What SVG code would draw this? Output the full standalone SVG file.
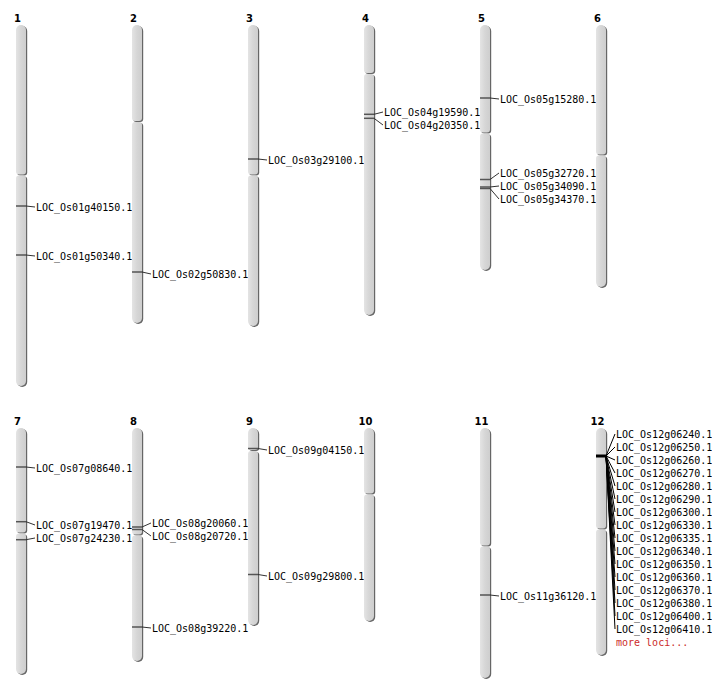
<svg xmlns="http://www.w3.org/2000/svg" width="712" height="700" viewBox="0 0 712 700">
<defs>
<linearGradient id="g" x1="0" y1="0" x2="1" y2="0">
<stop offset="0" stop-color="#e4e4e4"/>
<stop offset="0.5" stop-color="#d6d6d6"/>
<stop offset="1" stop-color="#cecece"/>
</linearGradient>
</defs>
<style>
.sh{fill:#666}
.bd{fill:url(#g)}
.num{font-family:"DejaVu Sans",sans-serif;font-weight:bold;font-size:10px;text-anchor:middle;fill:#000}
.lb{font-family:"DejaVu Sans Mono","Liberation Mono",monospace;font-size:10px;fill:#000}
.more{fill:#cc2a2a}
.mk{stroke:#555;stroke-width:1.5}
.mk12{stroke:#000;stroke-width:3}
.cn{stroke:#333;stroke-width:1;fill:none}
.cn12{stroke:#000;stroke-width:1;fill:none}
</style>
<rect width="712" height="700" fill="#fff"/>

<g id="chr1">
<text class="num" x="17.5" y="22">1</text>
<g transform="translate(1.2,1)" class="sh"><path d="M16 30A5 5 0 0 1 21 25A5 5 0 0 1 26 30V171.5A3 3 0 0 1 23 174.5H19A3 3 0 0 1 16 171.5Z"/><path d="M16 178.5A3 3 0 0 1 19 175.5H23A3 3 0 0 1 26 178.5V381A5 5 0 0 1 21 386A5 5 0 0 1 16 381Z"/></g>
<path class="bd" d="M16 30A5 5 0 0 1 21 25A5 5 0 0 1 26 30V171.5A3 3 0 0 1 23 174.5H19A3 3 0 0 1 16 171.5Z"/><path class="bd" d="M16 178.5A3 3 0 0 1 19 175.5H23A3 3 0 0 1 26 178.5V381A5 5 0 0 1 21 386A5 5 0 0 1 16 381Z"/>
<line class="mk" x1="16" y1="206" x2="27" y2="206"/>
<line class="mk" x1="16" y1="255" x2="27" y2="255"/>
<text class="lb" x="36" y="210.5">LOC_Os01g40150.1</text>
<text class="lb" x="36" y="259.5">LOC_Os01g50340.1</text>
</g>

<g id="chr2">
<text class="num" x="133.5" y="22">2</text>
<g transform="translate(1.2,1)" class="sh"><path d="M132 30A5 5 0 0 1 137 25A5 5 0 0 1 142 30V118A3 3 0 0 1 139 121H135A3 3 0 0 1 132 118Z"/><path d="M132 125A3 3 0 0 1 135 122H139A3 3 0 0 1 142 125V318A5 5 0 0 1 137 323A5 5 0 0 1 132 318Z"/></g>
<path class="bd" d="M132 30A5 5 0 0 1 137 25A5 5 0 0 1 142 30V118A3 3 0 0 1 139 121H135A3 3 0 0 1 132 118Z"/><path class="bd" d="M132 125A3 3 0 0 1 135 122H139A3 3 0 0 1 142 125V318A5 5 0 0 1 137 323A5 5 0 0 1 132 318Z"/>
<line class="mk" x1="132" y1="272" x2="143" y2="272"/>
<text class="lb" x="152" y="277.5">LOC_Os02g50830.1</text>
</g>

<g id="chr3">
<text class="num" x="249.5" y="22">3</text>
<g transform="translate(1.2,1)" class="sh"><path d="M248 30A5 5 0 0 1 253 25A5 5 0 0 1 258 30V171.5A3 3 0 0 1 255 174.5H251A3 3 0 0 1 248 171.5Z"/><path d="M248 178.5A3 3 0 0 1 251 175.5H255A3 3 0 0 1 258 178.5V321A5 5 0 0 1 253 326A5 5 0 0 1 248 321Z"/></g>
<path class="bd" d="M248 30A5 5 0 0 1 253 25A5 5 0 0 1 258 30V171.5A3 3 0 0 1 255 174.5H251A3 3 0 0 1 248 171.5Z"/><path class="bd" d="M248 178.5A3 3 0 0 1 251 175.5H255A3 3 0 0 1 258 178.5V321A5 5 0 0 1 253 326A5 5 0 0 1 248 321Z"/>
<line class="mk" x1="248" y1="159" x2="259" y2="159"/>
<text class="lb" x="268" y="163.5">LOC_Os03g29100.1</text>
</g>

<g id="chr4">
<text class="num" x="365.5" y="22">4</text>
<g transform="translate(1.2,1)" class="sh"><path d="M364 30A5 5 0 0 1 369 25A5 5 0 0 1 374 30V70A3 3 0 0 1 371 73H367A3 3 0 0 1 364 70Z"/><path d="M364 77A3 3 0 0 1 367 74H371A3 3 0 0 1 374 77V310A5 5 0 0 1 369 315A5 5 0 0 1 364 310Z"/></g>
<path class="bd" d="M364 30A5 5 0 0 1 369 25A5 5 0 0 1 374 30V70A3 3 0 0 1 371 73H367A3 3 0 0 1 364 70Z"/><path class="bd" d="M364 77A3 3 0 0 1 367 74H371A3 3 0 0 1 374 77V310A5 5 0 0 1 369 315A5 5 0 0 1 364 310Z"/>
<line class="mk" x1="364" y1="114.3" x2="375" y2="114.3"/>
<line class="mk" x1="364" y1="118.3" x2="375" y2="118.3"/>
<text class="lb" x="384" y="115.5">LOC_Os04g19590.1</text>
<text class="lb" x="384" y="128.5">LOC_Os04g20350.1</text>
</g>

<g id="chr5">
<text class="num" x="481.5" y="22">5</text>
<g transform="translate(1.2,1)" class="sh"><path d="M480 30A5 5 0 0 1 485 25A5 5 0 0 1 490 30V129.5A3 3 0 0 1 487 132.5H483A3 3 0 0 1 480 129.5Z"/><path d="M480 136.5A3 3 0 0 1 483 133.5H487A3 3 0 0 1 490 136.5V265A5 5 0 0 1 485 270A5 5 0 0 1 480 265Z"/></g>
<path class="bd" d="M480 30A5 5 0 0 1 485 25A5 5 0 0 1 490 30V129.5A3 3 0 0 1 487 132.5H483A3 3 0 0 1 480 129.5Z"/><path class="bd" d="M480 136.5A3 3 0 0 1 483 133.5H487A3 3 0 0 1 490 136.5V265A5 5 0 0 1 485 270A5 5 0 0 1 480 265Z"/>
<line class="mk" x1="480" y1="98" x2="491" y2="98"/>
<line class="mk" x1="480" y1="179.5" x2="491" y2="179.5"/>
<line class="mk" x1="480" y1="187" x2="491" y2="187"/>
<line class="mk" x1="480" y1="188.5" x2="491" y2="188.5"/>
<text class="lb" x="500" y="102.5">LOC_Os05g15280.1</text>
<text class="lb" x="500" y="176.5">LOC_Os05g32720.1</text>
<text class="lb" x="500" y="189.5">LOC_Os05g34090.1</text>
<text class="lb" x="500" y="202.5">LOC_Os05g34370.1</text>
</g>

<g id="chr6">
<text class="num" x="597.5" y="22">6</text>
<g transform="translate(1.2,1)" class="sh"><path d="M596 30A5 5 0 0 1 601 25A5 5 0 0 1 606 30V151.5A3 3 0 0 1 603 154.5H599A3 3 0 0 1 596 151.5Z"/><path d="M596 158.5A3 3 0 0 1 599 155.5H603A3 3 0 0 1 606 158.5V282A5 5 0 0 1 601 287A5 5 0 0 1 596 282Z"/></g>
<path class="bd" d="M596 30A5 5 0 0 1 601 25A5 5 0 0 1 606 30V151.5A3 3 0 0 1 603 154.5H599A3 3 0 0 1 596 151.5Z"/><path class="bd" d="M596 158.5A3 3 0 0 1 599 155.5H603A3 3 0 0 1 606 158.5V282A5 5 0 0 1 601 287A5 5 0 0 1 596 282Z"/>
</g>

<g id="chr7">
<text class="num" x="17.5" y="425">7</text>
<g transform="translate(1.2,1)" class="sh"><path d="M16 433A5 5 0 0 1 21 428A5 5 0 0 1 26 433V529.5A3 3 0 0 1 23 532.5H19A3 3 0 0 1 16 529.5Z"/><path d="M16 536.5A3 3 0 0 1 19 533.5H23A3 3 0 0 1 26 536.5V669A5 5 0 0 1 21 674A5 5 0 0 1 16 669Z"/></g>
<path class="bd" d="M16 433A5 5 0 0 1 21 428A5 5 0 0 1 26 433V529.5A3 3 0 0 1 23 532.5H19A3 3 0 0 1 16 529.5Z"/><path class="bd" d="M16 536.5A3 3 0 0 1 19 533.5H23A3 3 0 0 1 26 536.5V669A5 5 0 0 1 21 674A5 5 0 0 1 16 669Z"/>
<line class="mk" x1="16" y1="467" x2="27" y2="467"/>
<line class="mk" x1="16" y1="521.7" x2="27" y2="521.7"/>
<line class="mk" x1="16" y1="539.7" x2="27" y2="539.7"/>
<text class="lb" x="36" y="471.5">LOC_Os07g08640.1</text>
<text class="lb" x="36" y="528.5">LOC_Os07g19470.1</text>
<text class="lb" x="36" y="541.5">LOC_Os07g24230.1</text>
</g>

<g id="chr8">
<text class="num" x="133.5" y="425">8</text>
<g transform="translate(1.2,1)" class="sh"><path d="M132 433A5 5 0 0 1 137 428A5 5 0 0 1 142 433V531.5A3 3 0 0 1 139 534.5H135A3 3 0 0 1 132 531.5Z"/><path d="M132 538.5A3 3 0 0 1 135 535.5H139A3 3 0 0 1 142 538.5V656A5 5 0 0 1 137 661A5 5 0 0 1 132 656Z"/></g>
<path class="bd" d="M132 433A5 5 0 0 1 137 428A5 5 0 0 1 142 433V531.5A3 3 0 0 1 139 534.5H135A3 3 0 0 1 132 531.5Z"/><path class="bd" d="M132 538.5A3 3 0 0 1 135 535.5H139A3 3 0 0 1 142 538.5V656A5 5 0 0 1 137 661A5 5 0 0 1 132 656Z"/>
<line class="mk" x1="132" y1="527" x2="143" y2="527"/>
<line class="mk" x1="132" y1="529.5" x2="143" y2="529.5"/>
<line class="mk" x1="132" y1="627" x2="143" y2="627"/>
<text class="lb" x="152" y="526.5">LOC_Os08g20060.1</text>
<text class="lb" x="152" y="539.5">LOC_Os08g20720.1</text>
<text class="lb" x="152" y="631.5">LOC_Os08g39220.1</text>
</g>

<g id="chr9">
<text class="num" x="249.5" y="425">9</text>
<g transform="translate(1.2,1)" class="sh"><path d="M248 433A5 5 0 0 1 253 428A5 5 0 0 1 258 433V447A3 3 0 0 1 255 450H251A3 3 0 0 1 248 447Z"/><path d="M248 454A3 3 0 0 1 251 451H255A3 3 0 0 1 258 454V620A5 5 0 0 1 253 625A5 5 0 0 1 248 620Z"/></g>
<path class="bd" d="M248 433A5 5 0 0 1 253 428A5 5 0 0 1 258 433V447A3 3 0 0 1 255 450H251A3 3 0 0 1 248 447Z"/><path class="bd" d="M248 454A3 3 0 0 1 251 451H255A3 3 0 0 1 258 454V620A5 5 0 0 1 253 625A5 5 0 0 1 248 620Z"/>
<line class="mk" x1="248" y1="448.5" x2="259" y2="448.5"/>
<line class="mk" x1="248" y1="574.5" x2="259" y2="574.5"/>
<text class="lb" x="268" y="453.5">LOC_Os09g04150.1</text>
<text class="lb" x="268" y="579.5">LOC_Os09g29800.1</text>
</g>

<g id="chr10">
<text class="num" x="365.5" y="425">10</text>
<g transform="translate(1.2,1)" class="sh"><path d="M364 433A5 5 0 0 1 369 428A5 5 0 0 1 374 433V490.5A3 3 0 0 1 371 493.5H367A3 3 0 0 1 364 490.5Z"/><path d="M364 497.5A3 3 0 0 1 367 494.5H371A3 3 0 0 1 374 497.5V616A5 5 0 0 1 369 621A5 5 0 0 1 364 616Z"/></g>
<path class="bd" d="M364 433A5 5 0 0 1 369 428A5 5 0 0 1 374 433V490.5A3 3 0 0 1 371 493.5H367A3 3 0 0 1 364 490.5Z"/><path class="bd" d="M364 497.5A3 3 0 0 1 367 494.5H371A3 3 0 0 1 374 497.5V616A5 5 0 0 1 369 621A5 5 0 0 1 364 616Z"/>
</g>

<g id="chr11">
<text class="num" x="481.5" y="425">11</text>
<g transform="translate(1.2,1)" class="sh"><path d="M480 433A5 5 0 0 1 485 428A5 5 0 0 1 490 433V542.5A3 3 0 0 1 487 545.5H483A3 3 0 0 1 480 542.5Z"/><path d="M480 549.5A3 3 0 0 1 483 546.5H487A3 3 0 0 1 490 549.5V673A5 5 0 0 1 485 678A5 5 0 0 1 480 673Z"/></g>
<path class="bd" d="M480 433A5 5 0 0 1 485 428A5 5 0 0 1 490 433V542.5A3 3 0 0 1 487 545.5H483A3 3 0 0 1 480 542.5Z"/><path class="bd" d="M480 549.5A3 3 0 0 1 483 546.5H487A3 3 0 0 1 490 549.5V673A5 5 0 0 1 485 678A5 5 0 0 1 480 673Z"/>
<line class="mk" x1="480" y1="595" x2="491" y2="595"/>
<text class="lb" x="500" y="599.5">LOC_Os11g36120.1</text>
</g>

<g id="chr12">
<text class="num" x="597.5" y="425">12</text>
<g transform="translate(1.2,1)" class="sh"><path d="M596 433A5 5 0 0 1 601 428A5 5 0 0 1 606 433V525.5A3 3 0 0 1 603 528.5H599A3 3 0 0 1 596 525.5Z"/><path d="M596 532.5A3 3 0 0 1 599 529.5H603A3 3 0 0 1 606 532.5V650A5 5 0 0 1 601 655A5 5 0 0 1 596 650Z"/></g>
<path class="bd" d="M596 433A5 5 0 0 1 601 428A5 5 0 0 1 606 433V525.5A3 3 0 0 1 603 528.5H599A3 3 0 0 1 596 525.5Z"/><path class="bd" d="M596 532.5A3 3 0 0 1 599 529.5H603A3 3 0 0 1 606 532.5V650A5 5 0 0 1 601 655A5 5 0 0 1 596 650Z"/>
<line class="mk12" x1="596" y1="456" x2="607" y2="456"/>
<text class="lb" x="616" y="437.5">LOC_Os12g06240.1</text>
<text class="lb" x="616" y="450.5">LOC_Os12g06250.1</text>
<text class="lb" x="616" y="463.5">LOC_Os12g06260.1</text>
<text class="lb" x="616" y="476.5">LOC_Os12g06270.1</text>
<text class="lb" x="616" y="489.5">LOC_Os12g06280.1</text>
<text class="lb" x="616" y="502.5">LOC_Os12g06290.1</text>
<text class="lb" x="616" y="515.5">LOC_Os12g06300.1</text>
<text class="lb" x="616" y="528.5">LOC_Os12g06330.1</text>
<text class="lb" x="616" y="541.5">LOC_Os12g06335.1</text>
<text class="lb" x="616" y="554.5">LOC_Os12g06340.1</text>
<text class="lb" x="616" y="567.5">LOC_Os12g06350.1</text>
<text class="lb" x="616" y="580.5">LOC_Os12g06360.1</text>
<text class="lb" x="616" y="593.5">LOC_Os12g06370.1</text>
<text class="lb" x="616" y="606.5">LOC_Os12g06380.1</text>
<text class="lb" x="616" y="619.5">LOC_Os12g06400.1</text>
<text class="lb" x="616" y="632.5">LOC_Os12g06410.1</text>
<text class="lb more" x="616" y="645.5">more loci...</text>
</g>

<g id="connectors">
<g class="cn">
<line x1="26" y1="206" x2="35" y2="207"/>
<line x1="26" y1="255" x2="35" y2="256"/>
<line x1="142" y1="272" x2="151" y2="274"/>
<line x1="258" y1="159" x2="267" y2="160"/>
<line x1="374" y1="114.3" x2="383" y2="112"/>
<line x1="374" y1="118.3" x2="383" y2="125"/>
<line x1="490" y1="98" x2="499" y2="99"/>
<line x1="490" y1="179.5" x2="499" y2="173"/>
<line x1="490" y1="187" x2="499" y2="186"/>
<line x1="490" y1="188.5" x2="499" y2="199"/>
<line x1="26" y1="467" x2="35" y2="468"/>
<line x1="26" y1="521.7" x2="35" y2="525"/>
<line x1="26" y1="539.7" x2="35" y2="538"/>
<line x1="142" y1="527" x2="151" y2="523"/>
<line x1="142" y1="529.5" x2="151" y2="536"/>
<line x1="142" y1="627" x2="151" y2="628"/>
<line x1="258" y1="448.5" x2="267" y2="450"/>
<line x1="258" y1="574.5" x2="267" y2="576"/>
<line x1="490" y1="595" x2="499" y2="596"/>
</g>
<g class="cn12">
<line x1="606" y1="456" x2="615" y2="434"/>
<line x1="606" y1="456" x2="615" y2="447"/>
<line x1="606" y1="456" x2="615" y2="460"/>
<line x1="606" y1="456" x2="615" y2="473"/>
<line x1="606" y1="456" x2="615" y2="486"/>
<line x1="606" y1="456" x2="615" y2="499"/>
<line x1="606" y1="456" x2="615" y2="512"/>
<line x1="606" y1="456" x2="615" y2="525"/>
<line x1="606" y1="456" x2="615" y2="538"/>
<line x1="606" y1="456" x2="615" y2="551"/>
<line x1="606" y1="456" x2="615" y2="564"/>
<line x1="606" y1="456" x2="615" y2="577"/>
<line x1="606" y1="456" x2="615" y2="590"/>
<line x1="606" y1="456" x2="615" y2="603"/>
<line x1="606" y1="456" x2="615" y2="616"/>
<line x1="606" y1="456" x2="615" y2="629"/>
</g>
</g>
</svg>
